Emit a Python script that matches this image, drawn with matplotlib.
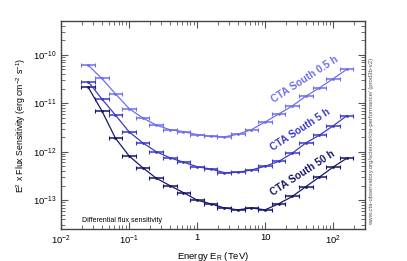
"""
CTA South differential flux sensitivity (0.5 h, 5 h, 50 h)
"""

import numpy as np
import matplotlib
matplotlib.use('Agg')
import matplotlib.pyplot as plt
from matplotlib import ticker

plt.rcParams['font.family'] = ['Liberation Sans', 'DejaVu Sans']
plt.rcParams['mathtext.fontset'] = 'custom'
plt.rcParams['mathtext.rm'] = 'Liberation Sans'
plt.rcParams['mathtext.it'] = 'Liberation Sans:italic'
plt.rcParams['mathtext.bf'] = 'Liberation Sans:bold'

############################### DATA ###############################

# bin centres in TeV (5 bins per decade)
energy = [0.0251, 0.0398, 0.0631, 0.1, 0.158, 0.251, 0.398, 0.631, 1.0, 1.585,
          2.512, 3.981, 6.31, 10.0, 15.85, 25.12, 39.81, 63.1, 100.0, 158.5]

sens_05h = [6.1e-11, 3.25e-11, 1.57e-11, 7.8e-12, 5.0e-12, 3.55e-12, 2.85e-12, 2.6e-12,
            2.25e-12, 2.07e-12, 2.02e-12, 2.3e-12, 2.85e-12, 4.1e-12, 6.0e-12, 8.8e-12,
            1.4e-11, 2.08e-11, 3.2e-11, 5.0e-11]

sens_5h = [2.8e-11, 1.23e-11, 5.7e-12, 2.58e-12, 1.54e-12, 1.0e-12, 7.5e-13, 6.1e-13,
           4.9e-13, 4.4e-13, 3.7e-13, 3.75e-13, 4.2e-13, 5.0e-13, 6.3e-13, 9.3e-13,
           1.52e-12, 2.2e-12, 3.4e-12, 5.5e-12]

sens_50h = [2.14e-11, 7.0e-12, 1.9e-12, 8.2e-13, 4.7e-13, 2.84e-13, 2.0e-13, 1.43e-13,
            1.0e-13, 8.4e-14, 6.9e-14, 6.3e-14, 6.9e-14, 6.3e-14, 8.4e-14, 1.19e-13,
            1.9e-13, 3.0e-13, 4.8e-13, 7.3e-13]

labels = ['CTA South 0.5 h', 'CTA South 5 h', 'CTA South 50 h']

xtick_vals = [0.01, 0.1, 1, 10, 100]
xtick_labels = [r'$10^{-2}$', r'$10^{-1}$', '1', '10', r'$10^{2}$']
ytick_vals = [1e-13, 1e-12, 1e-11, 1e-10]
ytick_labels = [r'$10^{-13}$', r'$10^{-12}$', r'$10^{-11}$', r'$10^{-10}$']

############################### PLOT ###############################

colors = ['#6e6ef2', '#3a3ac6', '#17176b']
label_pos = [(305, 79), (300, 130), (303, 173)]  # pixel centres of the curve labels

fig = plt.figure(figsize=(4.07, 2.61), dpi=100)
ax = fig.add_axes([0.150, 0.1215, 0.748, 0.798])

E = np.array(energy)
half = 10 ** 0.1
xerr = [E - E / half, E * half - E]

for sens, c in zip([sens_05h, sens_5h, sens_50h], colors):
    ax.errorbar(E, sens, xerr=xerr, fmt='-', color=c, lw=0.9, elinewidth=1.1,
                capsize=1.3, capthick=0.8, marker='.', markersize=2)

ax.set_xscale('log')
ax.set_yscale('log')
ax.set_xlim(0.01, 300)
ax.set_ylim(2.5e-14, 5e-10)

ax.xaxis.set_major_locator(ticker.FixedLocator(xtick_vals))
ax.xaxis.set_major_formatter(ticker.FixedFormatter(xtick_labels))
ax.yaxis.set_major_locator(ticker.FixedLocator(ytick_vals))
ax.yaxis.set_major_formatter(ticker.FixedFormatter(ytick_labels))
ax.xaxis.set_minor_locator(ticker.LogLocator(base=10, subs=np.arange(2, 10)))
ax.yaxis.set_minor_locator(ticker.LogLocator(base=10, subs=np.arange(2, 10)))
ax.xaxis.set_minor_formatter(ticker.NullFormatter())
ax.yaxis.set_minor_formatter(ticker.NullFormatter())

ax.tick_params(which='both', direction='in', top=True, right=True,
               color='#555555', labelsize=6.8, pad=3)
ax.tick_params(which='major', length=5, width=0.8)
ax.tick_params(which='minor', length=2.8, width=0.6)
for sp in ax.spines.values():
    sp.set_color('#444444')
    sp.set_linewidth(1.0)

ax.set_xlabel(r'Energy E$_{\mathrm{R}}$ (TeV)', fontsize=6.8, labelpad=2)
ax.set_ylabel(r'E$^{2}$ x Flux Sensitivity (erg cm$^{-2}$ s$^{-1}$)', fontsize=6.3, labelpad=4)

# curve labels
for (px, py), txt, c in zip(label_pos, labels, colors):
    fig.text(px / 407, 1 - py / 261, txt, color=c, fontsize=7.3, fontweight='bold',
             rotation=33, ha='center', va='center')

ax.text(0.068, 0.04, 'Differential flux sensitivity', transform=ax.transAxes,
        fontsize=5.0, color='black', ha='left', va='center')

fig.text(372 / 407, 1 - 141 / 261,
         'www.cta-observatory.org/science/cta-performance/ (prod3b-v2)',
         rotation=90, fontsize=4.3, color='#555555', ha='center', va='center')

fig.savefig('out.png', dpi=100)
